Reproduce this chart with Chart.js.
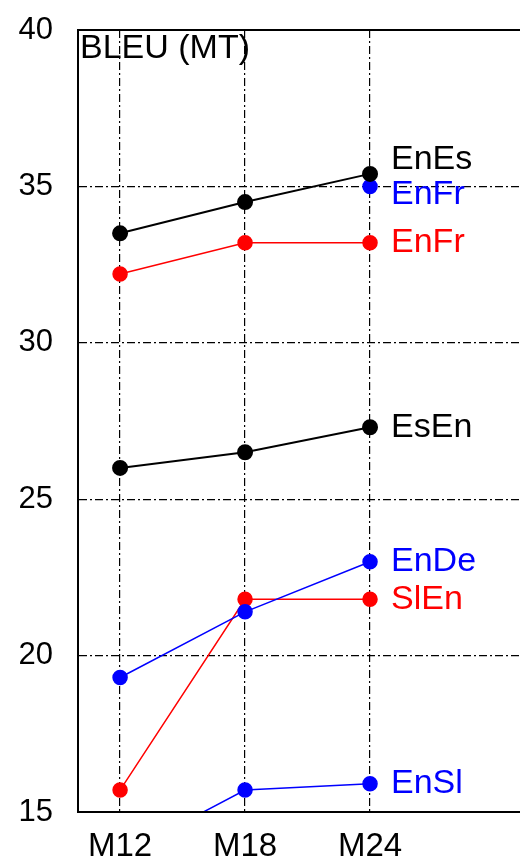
<!DOCTYPE html>
<html><head><meta charset="utf-8">
<script src="https://cdn.jsdelivr.net/npm/chart.js@4/dist/chart.umd.min.js"></script>
<style>
html,body{margin:0;padding:0;background:#fff;overflow:hidden;width:520px;height:863px}
#wrap{width:560px;height:863px;position:relative}
</style></head><body>
<div id="wrap"><canvas id="c" width="560" height="863"></canvas></div>
<script>
// ---- data ----
const months = [12, 18, 24];
const tickLabels = ['M12', 'M18', 'M24'];
const yTicks = [15, 20, 25, 30, 35, 40];
const enEs = [33.5, 34.5, 35.4];
const enFrBlue = [null, null, 35.0];
const enFrRed = [32.2, 33.2, 33.2];
const esEn = [26.0, 26.5, 27.3];
const enDe = [19.3, 21.4, 23.0];
const slEn = [15.7, 21.8, 21.8];
const enSl = [13.6, 15.7, 15.9];
const titleText = 'BLEU (MT)';

const FONT = '"Liberation Sans", Arial, Helvetica, sans-serif';
const toPts = arr => arr.map((v, i) => ({x: months[i], y: v}));
function ds(name, arr, color, dy, lw) {
  return {
    label: name, data: toPts(arr), borderColor: color, backgroundColor: color,
    pointBackgroundColor: color, pointBorderColor: color, pointRadius: 7, pointHoverRadius: 7,
    borderWidth: lw || 1.5, tension: 0, endLabelDy: dy
  };
}

const endLabels = {
  id: 'endLabels',
  afterDatasetsDraw(chart) {
    const ctx = chart.ctx;
    ctx.save();
    ctx.font = '34px ' + FONT;
    ctx.textBaseline = 'middle';
    ctx.textAlign = 'left';
    chart.data.datasets.forEach((d, i) => {
      const meta = chart.getDatasetMeta(i);
      const p = meta.data[meta.data.length - 1];
      ctx.fillStyle = d.borderColor;
      ctx.fillText(d.label, p.x + 21, p.y + d.endLabelDy);
    });
    const a = chart.chartArea;
    ctx.fillStyle = '#000';
    ctx.font = '34px ' + FONT;
    ctx.textBaseline = 'top';
    ctx.fillText(titleText, a.left + 2, a.top + 2);
    ctx.restore();
  }
};
const frame = {
  id: 'frame',
  afterDraw(chart) {
    const a = chart.chartArea, ctx = chart.ctx;
    ctx.save();
    ctx.strokeStyle = '#000';
    ctx.lineWidth = 2;
    ctx.strokeRect(a.left, a.top, a.right - a.left, a.bottom - a.top);
    ctx.restore();
  }
};

new Chart(document.getElementById('c'), {
  type: 'line',
  data: {
    datasets: [
      ds('EnEs', enEs, '#000000', -14, 2),
      ds('EnFr', enFrBlue, '#0000ff', 8),
      ds('EnFr', enFrRed, '#ff0000', 0),
      ds('EsEn', esEn, '#000000', 0, 2),
      ds('EnDe', enDe, '#0000ff', 0),
      ds('SlEn', slEn, '#ff0000', 0),
      ds('EnSl', enSl, '#0000ff', 0)
    ]
  },
  options: {
    responsive: false, animation: false,
    layout: {autoPadding: false, padding: {top: 30, left: 0, right: 0, bottom: 0}},
    plugins: {legend: {display: false}, tooltip: {enabled: false}},
    scales: {
      x: {
        type: 'linear', min: 9.98, max: 33.12,
        afterBuildTicks: s => { s.ticks = months.map(v => ({value: v})); },
        afterFit: s => { s.height = 51; s.paddingLeft = 0; s.paddingRight = 0; },
        ticks: {
          callback: v => tickLabels[months.indexOf(v)],
          color: '#000', font: {family: FONT, size: 33}, padding: 15, maxRotation: 0
        },
        grid: {color: '#000', lineWidth: 1.2, drawTicks: false},
        border: {display: true, color: '#000', width: 2, dash: [8, 3, 2, 3]}
      },
      y: {
        min: 15, max: 40,
        afterBuildTicks: s => { s.ticks = yTicks.map(v => ({value: v})); },
        afterFit: s => { s.width = 78; s.paddingTop = 0; s.paddingBottom = 0; },
        ticks: {color: '#000', font: {family: FONT, size: 31}, padding: 25},
        grid: {color: '#000', lineWidth: 1.2, drawTicks: false},
        border: {display: true, color: '#000', width: 2, dash: [8, 3, 2, 3]}
      }
    }
  },
  plugins: [endLabels, frame]
});
</script>
</body></html>
